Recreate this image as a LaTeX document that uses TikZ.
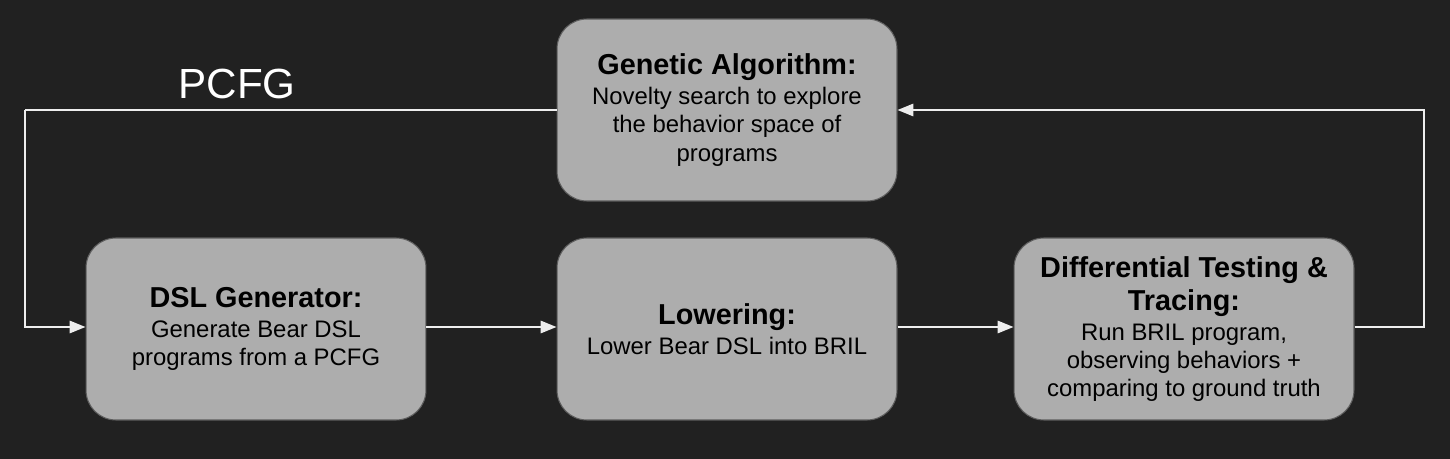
\documentclass[tikz,border=0pt]{standalone}
\usepackage{fontspec}
\setmainfont{Liberation Sans}
\usepackage{xcolor}
\usetikzlibrary{arrows.meta, positioning}
\definecolor{bgdark}{HTML}{212121}
\definecolor{boxgray}{HTML}{ADADAD}
\definecolor{boxedge}{HTML}{5E5E5E}
\definecolor{wireline}{HTML}{EEEEEE}
\newcommand{\boxtitle}[1]{{\fontsize{16.4}{19}\selectfont\bfseries #1}}

\begin{document}
\begin{tikzpicture}[
    x=0.02cm, y=-0.02cm,
    stage/.style={rectangle, rounded corners=17pt, draw=boxedge, line width=0.6pt, fill=boxgray,
        minimum width=6.8cm, minimum height=3.64cm, align=center, text=black,
        font=\fontsize{13.6}{16}\selectfont},
    arrow/.style={-{Triangle[length=9pt, width=7pt]}, line width=1.1pt, wireline},
    wire/.style={line width=1.1pt, wireline}
]
% Background and bounding box
\fill[bgdark] (0,0) rectangle (1450,459);
\useasboundingbox (0,0) rectangle (1450,459);

% Stages
\node[stage] (genetic) at (727,110) {\boxtitle{Genetic Algorithm:}\\[1pt]Novelty search to explore\\the behavior space of\\programs};
\node[stage] (dslgen) at (256,329) {\boxtitle{DSL Generator:}\\[1pt]Generate Bear DSL\\programs from a PCFG};
\node[stage] (lowering) at (727,329) {\boxtitle{Lowering:}\\[1pt]Lower Bear DSL into BRIL};
\node[stage] (difftest) at (1184,329) {\boxtitle{Differential Testing \&}\\[3pt]\boxtitle{Tracing:}\\[1pt]Run BRIL program,\\observing behaviors +\\comparing to ground truth};

% Corner points of the feedback loop
\coordinate (leftup) at (25,110);
\coordinate (leftdown) at (25,327);
\coordinate (rightdown) at (1424,327);
\coordinate (rightup) at (1424,110);

% Main pipeline
\draw[arrow] (dslgen.east |- leftdown) -- (lowering.west |- leftdown);
\draw[arrow] (lowering.east |- leftdown) -- (difftest.west |- leftdown);

% Feedback loop
\draw[wire] (genetic.west |- leftup) -- (leftup);
\draw[arrow] (leftup) -- (leftdown) -- (dslgen.west |- leftdown);
\draw[arrow] (difftest.east |- rightdown) -- (rightdown) -- (rightup) -- (genetic.east |- rightup);

% Loop label
\node[text=white, font=\fontsize{24}{28}\selectfont] (pcfg) at (237,84) {PCFG};

\end{tikzpicture}
\end{document}
